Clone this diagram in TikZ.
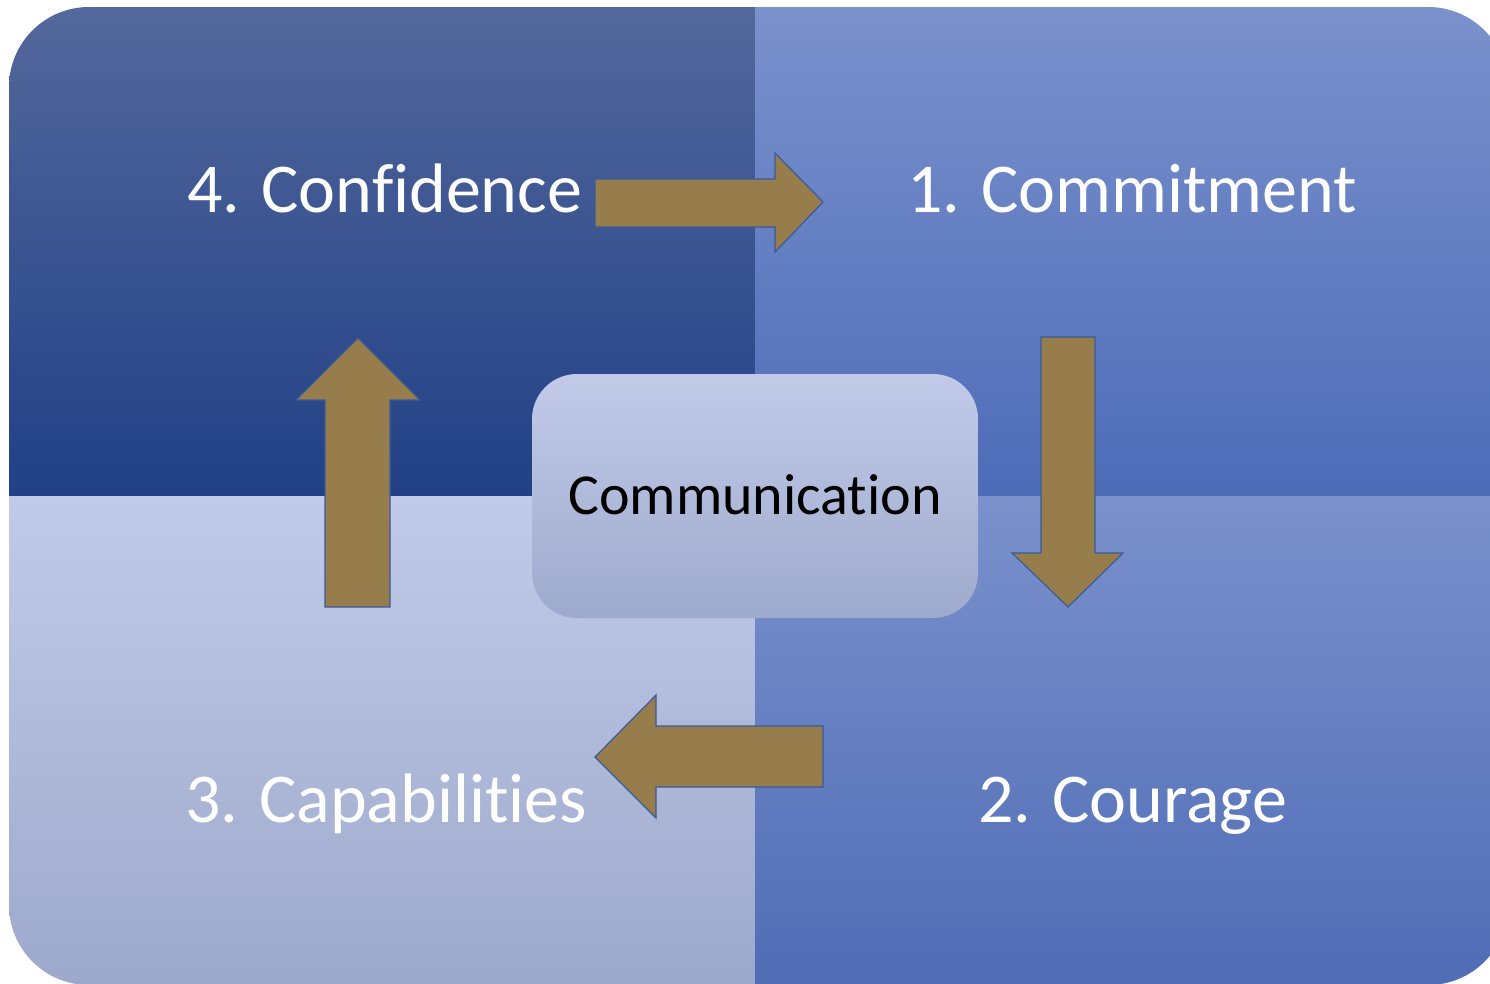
\documentclass[tikz,border=0pt]{standalone}
\usepackage{fontspec}
\setmainfont[Ligatures={NoCommon}]{Carlito}
\begin{document}
\begin{tikzpicture}[x=1pt,y=-1pt,
  lbl/.style={text=white,font=\fontsize{70}{84}\selectfont,inner sep=0pt,anchor=base west},
  barrow/.style={fill=arrowfill,draw=arrowline,line width=1.2pt,line join=miter}]
\definecolor{tlTop}{RGB}{83,104,156}
\definecolor{tlBot}{RGB}{33,64,134}
\definecolor{trTop}{RGB}{122,145,204}
\definecolor{trBot}{RGB}{77,108,184}
\definecolor{brTop}{RGB}{122,145,204}
\definecolor{brBot}{RGB}{79,108,181}
\definecolor{blTop}{RGB}{193,202,232}
\definecolor{blBot}{RGB}{157,169,204}
\definecolor{cTop}{RGB}{194,202,232}
\definecolor{cBot}{RGB}{158,170,205}
\definecolor{arrowfill}{RGB}{151,124,76}
\definecolor{arrowline}{RGB}{58,90,154}
\useasboundingbox (0,0) rectangle (1490,983);
\begin{scope}
\clip[rounded corners=80pt] (9,7) rectangle (1508,985);
\shade[top color=tlTop,bottom color=tlBot] (9,7) rectangle (755,496);
\shade[top color=trTop,bottom color=trBot] (755,7) rectangle (1508,496);
\shade[top color=blTop,bottom color=blBot] (9,496) rectangle (755,985);
\shade[top color=brTop,bottom color=brBot] (755,496) rectangle (1508,985);
\end{scope}
% arrows
\draw[barrow] (595,179) -- (775,179) -- (775,153) -- (823,202) -- (775,252) -- (775,227) -- (595,227) -- cycle;
\draw[barrow] (1041,337) -- (1095,337) -- (1095,553) -- (1123,553) -- (1068,607) -- (1012,553) -- (1041,553) -- cycle;
\draw[barrow] (823,726) -- (656,726) -- (656,695) -- (595,757) -- (656,818) -- (656,787) -- (823,787) -- cycle;
\draw[barrow] (325,607) -- (325,400) -- (296,400) -- (358,338) -- (420,400) -- (390,400) -- (390,607) -- cycle;
% center
\shade[top color=cTop,bottom color=cBot,rounded corners=45pt] (532,374) rectangle (978,618);
\node[inner sep=0pt,font=\fontsize{58}{70}\selectfont,text=black] (comm) at (755,495) {Communication};
% labels
\node[lbl] (conf) at (187,212) {4. Confidence};
\node[lbl] (commit) at (907,212) {1. Commitment};
\node[lbl] (cour) at (978,822) {2. Courage};
\node[lbl] (cap) at (185,822) {3. Capabilities};
\end{tikzpicture}
\end{document}
